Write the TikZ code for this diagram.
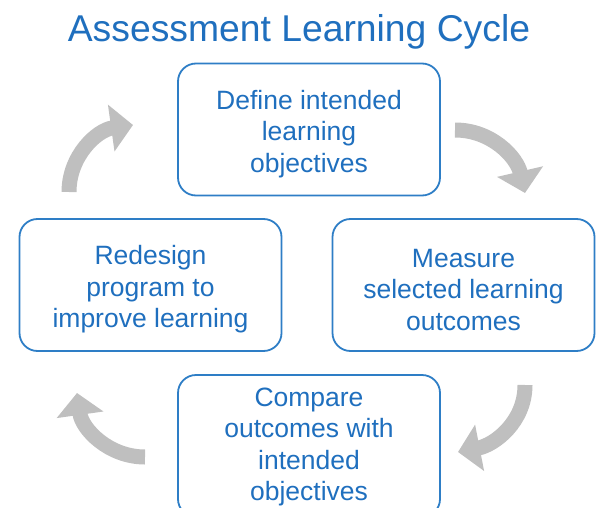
\documentclass[tikz,border=0pt]{standalone}
\usepackage{fontspec}
\setmainfont{Liberation Sans}
\usepackage{tikz}
\usetikzlibrary{arrows.meta}
\usepackage{xcolor}
\definecolor{boxline}{HTML}{2E7EC6}
\definecolor{boxtext}{HTML}{1F6FBE}
\definecolor{cyclegray}{HTML}{BFBFBF}
\newcommand{\stagestrut}[1][28pt]{\rule{0pt}{#1}}

\begin{document}
\begin{tikzpicture}[x=1pt,y=1pt,
    stagebox/.style={draw=boxline,line width=1.8pt,rounded corners=18pt,
      minimum width=262pt,minimum height=132pt,align=center,text=boxtext,
      font=\fontsize{26.5}{31.5}\selectfont},
    cyclearrow/.style={draw=cyclegray,line width=15pt,
      -{Triangle[width=46pt,length=22pt]}}]
  \useasboundingbox (0,0) rectangle (596,507);

  \node[anchor=base,text=boxtext,font=\fontsize{37.3}{40}\selectfont] (title) at (299,465) {Assessment Learning Cycle};

  % the four stages
  \node[stagebox] (define) at (309,377.5) {\stagestrut Define intended\\learning\\objectives};
  \node[stagebox] (measure) at (463.5,222) {\stagestrut Measure\\selected learning\\outcomes};
  \node[stagebox,minimum height=142pt] (compare) at (309,61) {\stagestrut[20pt]Compare\\outcomes with\\intended\\objectives};
  \node[stagebox] (redesign) at (150.5,222) {\stagestrut Redesign\\program to\\improve learning};

  % curved arrows between the stages
  \coordinate (trA) at (455,377); \coordinate (trB) at (525,314);
  \coordinate (brA) at (525,122); \coordinate (brB) at (458,55);
  \coordinate (blA) at (145,50);  \coordinate (blB) at (77,114);
  \coordinate (tlA) at (69,315);  \coordinate (tlB) at (133,382);
  \draw[cyclearrow] (trA) to[out=0,in=103] (trB);
  \draw[cyclearrow] (brA) to[out=-90,in=11] (brB);
  \draw[cyclearrow] (blA) to[out=180,in=278] (blB);
  \draw[cyclearrow] (tlA) to[out=90,in=188] (tlB);
\end{tikzpicture}
\end{document}
